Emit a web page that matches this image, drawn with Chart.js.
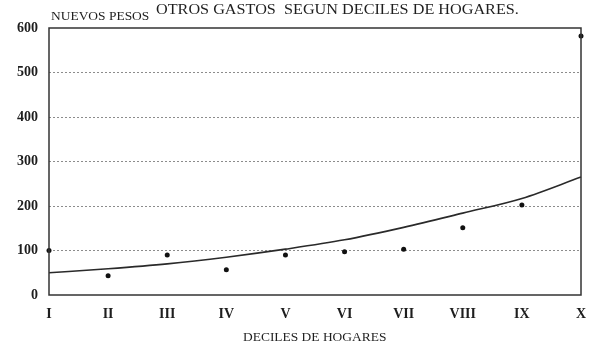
<!DOCTYPE html>
<html>
<head>
<meta charset="utf-8">
<script src="https://cdn.jsdelivr.net/npm/chart.js@4/dist/chart.umd.min.js"></script>
<style>
  body { margin: 0; background: #fff; }
  #wrap { width: 589px; height: 349px; }
</style>
</head>
<body>
<div id="wrap"><canvas id="myChart" width="589" height="349"></canvas></div>
<script>
var deciles = ['I', 'II', 'III', 'IV', 'V', 'VI', 'VII', 'VIII', 'IX', 'X'];
// gasto medio por decil (puntos)
var gastos = [100, 43, 90, 57, 90, 97, 103, 151, 202, 582];
// curva de tendencia
var tendencia = [50, 59, 70, 85, 103, 124, 152, 184, 217, 265];
var yTicks = [0, 100, 200, 300, 400, 500, 600];

var titulo = 'OTROS GASTOS  SEGUN DECILES DE HOGARES.';
var unidad = 'NUEVOS PESOS';
var ejeX = 'DECILES DE HOGARES';

var serif = "'Liberation Serif', 'Times New Roman', serif";
var ink = '#1e1e1e';

// stretched text, the scan is wider than the font
function wideText(ctx, text, x, y, size, weight, sx) {
  ctx.save();
  ctx.font = weight + ' ' + size + 'px ' + serif;
  ctx.fillStyle = ink;
  ctx.textBaseline = 'alphabetic';
  ctx.textAlign = 'left';
  ctx.translate(x, y);
  ctx.scale(sx, 1);
  ctx.fillText(text, 0, 0);
  ctx.restore();
}

var textos = {
  id: 'textos',
  afterDraw: function(chart) {
    var ctx = chart.ctx;
    var a = chart.chartArea;
    // marco del grafico
    ctx.save();
    ctx.strokeStyle = '#333';
    ctx.lineWidth = 1.5;
    ctx.strokeRect(a.left, a.top, a.right - a.left, a.bottom - a.top);
    ctx.restore();

    wideText(ctx, titulo, 156, 14, 15, 'normal', 1.08);
    wideText(ctx, unidad, 51, 20, 11.5, 'normal', 1.17);
    wideText(ctx, ejeX, 243, 341, 12, 'normal', 1.12);
  }
};

var ctx = document.getElementById('myChart');

var chart = new Chart(ctx, {
  type: 'line',
  data: {
    labels: deciles,
    datasets: [{
      label: 'Gasto',
      data: gastos,
      showLine: false,
      pointRadius: 2.5,
      pointBackgroundColor: '#111',
      pointBorderColor: '#111',
      pointBorderWidth: 0,
      clip: false
    }, {
      label: 'Tendencia',
      data: tendencia,
      borderColor: '#2a2a2a',
      borderWidth: 1.6,
      pointRadius: 0,
      tension: 0.4,
      cubicInterpolationMode: 'monotone',
      clip: false
    }]
  },
  options: {
    responsive: false,
    animation: false,
    layout: { padding: { top: 28, right: 8, left: 0, bottom: 0 } },
    plugins: {
      legend: { display: false },
      tooltip: { enabled: false }
    },
    scales: {
      x: {
        offset: false,
        grid: { display: false, drawTicks: false },
        border: { display: false },
        ticks: {
          padding: 11,
          color: ink,
          maxRotation: 0,
          autoSkip: false,
          font: { family: serif, size: 14, weight: 'bold' }
        },
        afterFit: function(scale) {
          scale.height = 54;
          scale.paddingLeft = 0;
          scale.paddingRight = 0;
        }
      },
      y: {
        min: 0,
        max: 600,
        afterBuildTicks: function(scale) {
          scale.ticks = yTicks.map(function(v) { return { value: v }; });
        },
        grid: {
          drawTicks: false,
          color: function(c) {
            if (c.tick.value === 0 || c.tick.value === 600) return 'transparent';
            return '#8c8c8c';
          },
          lineWidth: 1
        },
        border: { display: false, dash: [2, 2] },
        ticks: {
          padding: 11,
          color: ink,
          font: { family: serif, size: 14, weight: 'bold' }
        },
        afterFit: function(scale) {
          scale.width = 49;
          scale.paddingTop = 0;
          scale.paddingBottom = 0;
        }
      }
    }
  },
  plugins: [textos]
});
</script>
</body>
</html>
